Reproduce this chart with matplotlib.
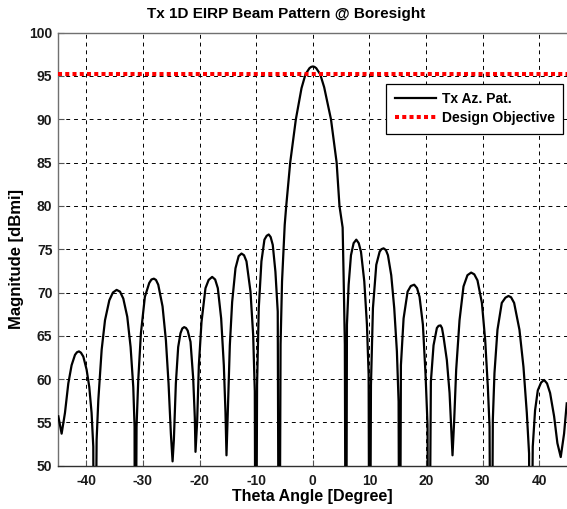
import matplotlib
matplotlib.use("Agg")
import matplotlib.pyplot as plt

plt.rcParams['font.family'] = ['Liberation Sans', 'DejaVu Sans']
plt.rcParams['font.weight'] = 'bold'
plt.rcParams['axes.unicode_minus'] = False

title = "Tx 1D EIRP Beam Pattern @ Boresight"
xlabel = "Theta Angle [Degree]"
ylabel = "Magnitude [dBmi]"
series_names = ["Tx Az. Pat.", "Design Objective"]
design_objective = 95.2
xticks = [-40, -30, -20, -10, 0, 10, 20, 30, 40]
yticks = [50, 55, 60, 65, 70, 75, 80, 85, 90, 95, 100]

theta = [
    -44.94, -44.36, -43.77, -43.18, -42.60, -42.00, -41.65, -41.30, -40.95, -40.53,
    -39.95, -39.48, -39.07, -38.77, -38.60, -38.18, -37.88, -37.29, -36.70, -35.94,
    -35.30, -34.65, -34.05, -33.47, -32.77, -32.18, -31.71, -31.48, -31.40, -31.13,
    -30.83, -30.36, -29.66, -28.89, -28.50, -28.07, -27.70, -27.30, -26.54, -25.95,
    -25.48, -25.07, -24.77, -24.54, -24.19, -23.78, -23.37, -23.05, -22.72, -22.40,
    -22.10, -21.60, -21.13, -20.84, -20.72, -20.43, -20.13, -19.66, -18.96, -18.40,
    -17.78, -17.25, -16.78, -16.19, -15.72, -15.43, -15.25, -15.02, -14.66, -14.25,
    -13.66, -13.10, -12.60, -12.15, -11.72, -11.01, -10.54, -10.25, -10.08, -9.85,
    -9.55, -9.08, -8.55, -8.15, -7.79, -7.45, -7.08, -6.61, -6.20, -5.96,
    -5.70, -5.44, -4.97, -4.70, -4.00, -3.00, -2.00, -1.30, -0.60, -0.30,
    0.00, 0.30, 0.60, 1.30, 2.00, 3.20, 4.20, 4.70, 5.26, 5.44,
    5.65, 5.85, 6.02, 6.32, 6.73, 7.20, 7.67, 8.10, 8.50, 9.08,
    9.55, 9.85, 10.02, 10.26, 10.61, 11.20, 11.79, 12.10, 12.49, 12.90,
    13.26, 13.84, 14.37, 14.84, 15.14, 15.32, 15.55, 16.02, 16.73, 17.30,
    17.90, 18.40, 18.84, 19.43, 19.90, 20.25, 20.43, 20.84, 21.31, 21.90,
    22.20, 22.55, 22.80, 23.07, 23.66, 24.14, 24.43, 24.66, 24.96, 25.31,
    25.90, 26.60, 27.30, 27.95, 28.50, 29.07, 29.85, 30.43, 30.90, 31.20,
    31.49, 31.78, 32.07, 32.60, 33.36, 34.00, 34.54, 35.00, 35.54, 36.48,
    37.19, 37.78, 38.18, 38.36, 38.83, 39.24, 39.72, 40.30, 40.83, 41.35,
    41.89, 42.60, 43.18, 43.77, 44.36, 44.83,
]
magnitude = [
    55.7, 53.7, 56.1, 59.5, 61.6, 62.8, 63.1, 63.2, 63.05, 62.6,
    61.1, 59.1, 56.1, 52.2, 20.0, 53.0, 57.6, 63.4, 66.8, 69.1,
    70.0, 70.3, 70.1, 69.3, 67.2, 63.7, 59.1, 54.5, 20.0, 54.5,
    59.9, 65.3, 69.5, 71.1, 71.5, 71.6, 71.45, 70.9, 68.4, 64.5,
    59.5, 53.7, 50.5, 53.0, 59.5, 63.7, 65.3, 65.85, 66.0, 65.9,
    65.6, 64.3, 60.1, 55.5, 51.6, 55.1, 61.6, 66.6, 70.5, 71.45,
    71.8, 71.5, 70.5, 67.0, 61.6, 56.2, 51.2, 56.2, 63.9, 68.9,
    72.8, 74.2, 74.5, 74.3, 73.6, 70.1, 65.1, 58.6, 20.0, 59.3,
    68.2, 73.6, 76.1, 76.55, 76.7, 76.4, 75.5, 72.4, 67.8, 20.0,
    64.0, 71.3, 77.8, 80.0, 85.0, 90.0, 93.6, 95.2, 95.9, 96.05,
    96.1, 96.05, 95.9, 95.2, 93.7, 90.0, 85.0, 80.0, 77.5, 71.6,
    64.0, 20.0, 66.3, 70.9, 74.3, 75.7, 76.1, 75.7, 74.7, 71.3,
    66.3, 60.5, 20.0, 59.3, 68.2, 73.2, 74.7, 75.0, 75.1, 74.9,
    74.3, 72.0, 68.2, 63.2, 57.4, 20.0, 61.6, 67.0, 70.1, 70.75,
    70.9, 70.5, 69.5, 66.3, 60.5, 54.7, 20.0, 59.7, 63.9, 65.9,
    66.15, 66.2, 65.9, 64.9, 62.2, 58.4, 54.5, 51.2, 55.3, 61.1,
    66.8, 70.7, 72.0, 72.3, 72.1, 71.4, 68.8, 64.5, 59.1, 54.5,
    20.0, 55.3, 60.7, 65.7, 68.8, 69.4, 69.6, 69.45, 68.8, 65.7,
    61.4, 56.1, 51.4, 20.0, 52.2, 56.4, 58.7, 59.6, 59.9, 59.5,
    58.4, 55.7, 52.6, 51.0, 53.7, 57.2,
]

W, H = 567, 509
fig = plt.figure(figsize=(W / 100, H / 100), dpi=100)
ax = fig.add_axes([58 / W, 1 - 465.7 / H, 509.7 / W, 433 / H])

ax.plot(theta, magnitude, color='black', lw=1.6, label=series_names[0], zorder=3)
ax.axhline(design_objective, color='#ff0000', lw=2.9, linestyle=(0, (1.0, 0.8)),
           label=series_names[1], zorder=4)

ax.set_xlim(-45, 45)
ax.set_ylim(50, 100)
ax.set_xticks(xticks)
ax.set_yticks(yticks)
ax.grid(True, color='black', lw=0.7, linestyle=(0, (4, 4)))
ax.tick_params(direction='in', length=4, width=0.8, colors='#555555',
               labelcolor='#1a1a1a', labelsize=10)
ax.tick_params(axis='y', pad=4)
ax.tick_params(axis='x', pad=6)
for lab in ax.get_xticklabels() + ax.get_yticklabels():
    lab.set_fontweight('bold')

for side in ['top', 'left']:
    ax.spines[side].set_color('#707070')
    ax.spines[side].set_linewidth(1.0)
ax.spines['bottom'].set_color('#303030')
ax.spines['bottom'].set_linewidth(1.0)
ax.spines['right'].set_visible(False)

leg = ax.legend(loc='upper right', bbox_to_anchor=(0.991, 0.8815), borderaxespad=0,
                fancybox=False, edgecolor='black', framealpha=1, fontsize=10,
                handlelength=3.0, handletextpad=0.4, labelspacing=0.35,
                borderpad=0.6)
leg.get_frame().set_linewidth(0.9)
for t in leg.get_texts():
    t.set_fontweight('bold')

fig.text(286 / W, 1 - 18.3 / H, title, ha='center', va='baseline',
         fontsize=11, fontweight='bold', color='black')
fig.text(312 / W, 1 - 496 / H, xlabel, ha='center', va='center',
         fontsize=11.5, fontweight='bold', color='black')
fig.text(17 / W, 1 - 259.2 / H, ylabel, ha='center', va='center', rotation=90,
         fontsize=12, fontweight='bold', color='black')

fig.savefig('out.png', dpi=100)
